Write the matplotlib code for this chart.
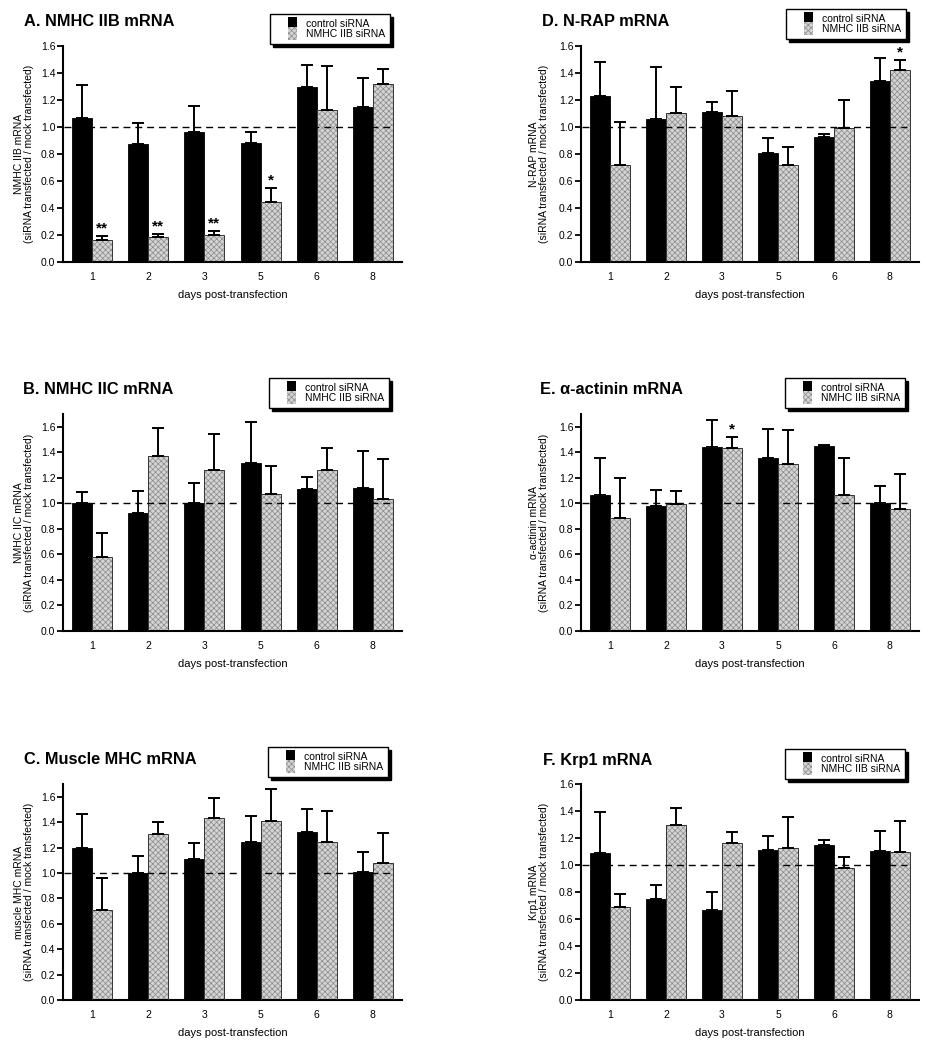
import numpy as np
import matplotlib
matplotlib.use("Agg")
import matplotlib.pyplot as plt
from matplotlib.patches import Patch, Rectangle
from matplotlib.legend_handler import HandlerPatch

plt.rcParams["font.family"] = ["Liberation Sans", "DejaVu Sans"]
plt.rcParams["hatch.linewidth"] = 0.5

days = ["1", "2", "3", "5", "6", "8"]

# panel A: NMHC IIB
a_ctrl = [1.064, 0.877, 0.960, 0.884, 1.300, 1.148]
a_ctrl_err = [1.310, 1.030, 1.155, 0.966, 1.456, 1.360]
a_kd = [0.160, 0.182, 0.200, 0.448, 1.123, 1.320]
a_kd_err = [0.195, 0.204, 0.227, 0.547, 1.450, 1.430]
a_stars = ["**", "**", "**", "*", "", ""]

# panel B: NMHC IIC
b_ctrl = [1.000, 0.921, 1.000, 1.317, 1.112, 1.117]
b_ctrl_err = [1.089, 1.100, 1.157, 1.637, 1.209, 1.411]
b_kd = [0.580, 1.374, 1.264, 1.073, 1.262, 1.031]
b_kd_err = [0.771, 1.587, 1.542, 1.293, 1.432, 1.348]

# panel C: muscle MHC
c_ctrl = [1.193, 0.997, 1.112, 1.246, 1.325, 1.007]
c_ctrl_err = [1.464, 1.136, 1.236, 1.448, 1.503, 1.165]
c_kd = [0.711, 1.306, 1.435, 1.409, 1.246, 1.081]
c_kd_err = [0.960, 1.403, 1.590, 1.663, 1.485, 1.317]

# panel D: N-RAP
d_ctrl = [1.232, 1.059, 1.108, 0.810, 0.929, 1.342]
d_ctrl_err = [1.483, 1.448, 1.187, 0.921, 0.946, 1.512]
d_kd = [0.717, 1.103, 1.084, 0.717, 0.993, 1.419]
d_kd_err = [1.037, 1.300, 1.268, 0.852, 1.202, 1.498]
d_stars = ["", "", "", "", "", "*"]

# panel E: alpha-actinin
e_ctrl = [1.068, 0.976, 1.443, 1.356, 1.450, 1.002]
e_ctrl_err = [1.353, 1.104, 1.652, 1.582, 1.458, 1.133]
e_kd = [0.887, 0.997, 1.435, 1.306, 1.068, 0.957]
e_kd_err = [1.196, 1.096, 1.521, 1.576, 1.353, 1.228]
e_stars = ["", "", "*", "", "", ""]

# panel F: Krp1
f_ctrl = [1.086, 0.751, 0.667, 1.114, 1.148, 1.106]
f_ctrl_err = [1.395, 0.849, 0.798, 1.212, 1.188, 1.254]
f_kd = [0.691, 1.299, 1.160, 1.126, 0.975, 1.099]
f_kd_err = [0.788, 1.425, 1.242, 1.358, 1.057, 1.323]

W, H = 926, 1040
GRAY = "#d4d4d4"
HATCH_C = "#8a8a8a"

fig = plt.figure(figsize=(W / 100, H / 100), dpi=100)


def px_rect(left, top, right, bottom):
    return [left / W, 1 - bottom / H, (right - left) / W, (bottom - top) / H]


def right_square(legend, orig_handle, xdescent, ydescent, width, height, fontsize):
    # swatch pushed to the right end of the handle area, tall enough to touch
    hw = 6.0
    return Rectangle((-xdescent + width - hw, -ydescent - 1.3), hw, height + 2.6)


def panel(rect, ymax, ctrl, ctrl_err, kd, kd_err, title, tpos, ylab, lab_x,
          leg_tr, stars=None):
    ax = fig.add_axes(rect)
    x = np.arange(len(days))
    w = 0.357
    ctrl = np.array(ctrl)
    kd = np.array(kd)
    ax.bar(x - w / 2, ctrl, w, color="black", edgecolor="black", lw=0.6, zorder=2)
    ax.bar(x + w / 2, kd, w, color=GRAY, edgecolor=HATCH_C, hatch="xxxxxx",
           lw=0, zorder=2)
    ax.bar(x + w / 2, kd, w, color="none", edgecolor="#333333", lw=0.7, zorder=3)
    ax.errorbar(x - w / 2, ctrl, yerr=[np.zeros(6), np.array(ctrl_err) - ctrl],
                fmt="none", ecolor="black", elinewidth=1.4, capsize=4.2,
                capthick=1.4, zorder=4)
    ax.errorbar(x + w / 2, kd, yerr=[np.zeros(6), np.array(kd_err) - kd],
                fmt="none", ecolor="black", elinewidth=1.4, capsize=4.2,
                capthick=1.4, zorder=4)
    ax.plot([-0.5, 5.3], [1, 1], ls=(0, (5, 3.5)), color="black", lw=1.0,
            zorder=5)
    if stars:
        for xi, top, s in zip(x, kd_err, stars):
            if s:
                ax.text(xi + w / 2, top + 0.005, s, ha="center", va="bottom",
                        fontsize=11, fontweight="bold")

    ax.set_xlim(-0.52, 5.52)
    ax.set_ylim(0, ymax)
    ax.set_xticks(x)
    ax.set_xticklabels(days, fontsize=7.5)
    ax.set_yticks(np.arange(0, 1.61, 0.2))
    ax.set_yticklabels([f"{v:.1f}" for v in np.arange(0, 1.61, 0.2)], fontsize=7.5)
    ax.tick_params(axis="x", length=0, pad=7)
    ax.tick_params(axis="y", length=4, width=1.3, pad=1.5, direction="out")
    for s in ("top", "right"):
        ax.spines[s].set_visible(False)
    for s in ("left", "bottom"):
        ax.spines[s].set_linewidth(1.5)
    ax.set_xlabel("days post-transfection", fontsize=8, labelpad=6)
    ax.set_ylabel(ylab + "\n(siRNA transfected / mock transfected)", fontsize=7.5,
                  linespacing=1.0)
    ax.yaxis.set_label_coords(lab_x, 0.5)

    fig.text(tpos[0] / W, 1 - tpos[1] / H, title, fontsize=11.8, fontweight="bold",
             ha="left", va="center")

    handles = [Patch(facecolor="black", edgecolor="black", lw=0),
               Patch(facecolor=GRAY, edgecolor=HATCH_C, hatch="xxxxxx", lw=0)]
    hp = HandlerPatch(patch_func=right_square)
    leg = fig.legend(handles, ["control siRNA", "NMHC IIB siRNA"],
                     loc="upper right",
                     bbox_to_anchor=(leg_tr[0] / W, 1 - leg_tr[1] / H),
                     handler_map={h: hp for h in handles},
                     fontsize=7.5, frameon=True, fancybox=False,
                     edgecolor="black", framealpha=1,
                     shadow={"color": "black", "alpha": 1},
                     handlelength=2.1, handleheight=0.9, handletextpad=0.85,
                     labelspacing=0.0, borderpad=0.5, borderaxespad=0)
    leg.get_frame().set_linewidth(1.0)
    return ax


panel(px_rect(63, 46, 402, 262), 1.6, a_ctrl, a_ctrl_err, a_kd, a_kd_err,
      "A. NMHC IIB mRNA", (24, 21), "NMHC IIB mRNA", -0.085, (390, 14), a_stars)
panel(px_rect(63, 414, 402, 631), 1.7, b_ctrl, b_ctrl_err, b_kd, b_kd_err,
      "B. NMHC IIC mRNA", (23, 390), "NMHC IIC mRNA", -0.085, (389, 378))
panel(px_rect(63, 784, 402, 1000), 1.7, c_ctrl, c_ctrl_err, c_kd, c_kd_err,
      "C. Muscle MHC mRNA", (24, 759), "muscle MHC mRNA", -0.085, (388, 747))
panel(px_rect(581, 46, 919, 262), 1.6, d_ctrl, d_ctrl_err, d_kd, d_kd_err,
      "D. N-RAP mRNA", (542, 21), "N-RAP mRNA", -0.095, (906, 9), d_stars)
panel(px_rect(581, 414, 919, 631), 1.7, e_ctrl, e_ctrl_err, e_kd, e_kd_err,
      "E. α-actinin mRNA", (540, 390), "α-actinin mRNA", -0.095, (905, 378),
      e_stars)
panel(px_rect(581, 784, 919, 1000), 1.6, f_ctrl, f_ctrl_err, f_kd, f_kd_err,
      "F. Krp1 mRNA", (543, 760), "Krp1 mRNA", -0.095, (905, 749))

fig.savefig("out.png", dpi=100)
